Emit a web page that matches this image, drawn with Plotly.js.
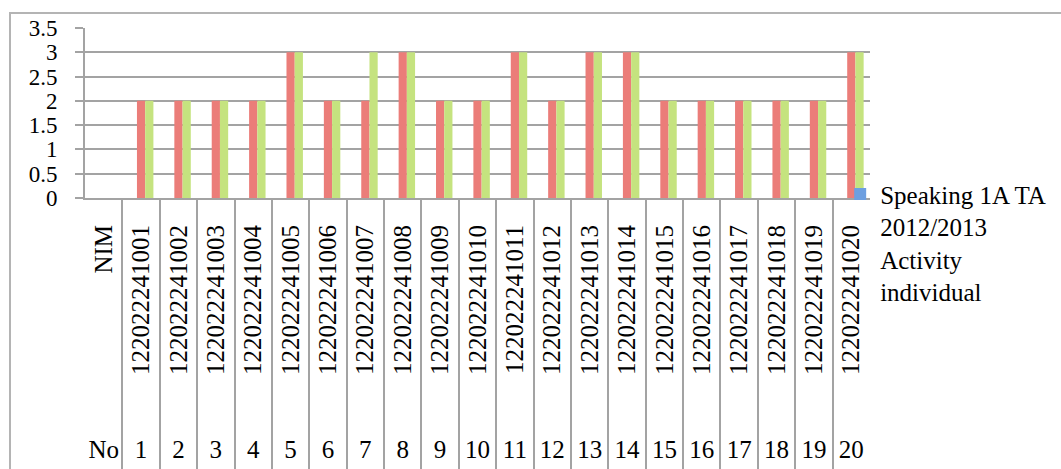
<!DOCTYPE html>
<html>
<head>
<meta charset="utf-8">
<script src="https://cdn.plot.ly/plotly-3.0.1.min.js"></script>
<style>
  html, body { margin: 0; padding: 0; background: #ffffff; }
  #frame { position: absolute; left: 9px; top: 12px; width: 1100px; height: 500px;
           border-left: 2px solid #b4b4b4; border-top: 2px solid #b4b4b4; }
  #chart { position: absolute; left: 0; top: 0; width: 1061px; height: 469px; }
</style>
</head>
<body>
<div id="frame"></div>
<div id="chart"></div>
<script>
// ---- data ----
const nimLabels = ["NIM", "122022241001", "122022241002", "122022241003", "122022241004",
  "122022241005", "122022241006", "122022241007", "122022241008", "122022241009",
  "122022241010", "122022241011", "122022241012", "122022241013", "122022241014",
  "122022241015", "122022241016", "122022241017", "122022241018", "122022241019",
  "122022241020"];
const noLabels = ["No", "1", "2", "3", "4", "5", "6", "7", "8", "9", "10",
  "11", "12", "13", "14", "15", "16", "17", "18", "19", "20"];
const seriesBlueName = "Speaking 1A TA<br>2012/2013<br>Activity<br>individual";
const seriesBlue  = [null, 0, 0, 0, 0, 0, 0, 0, 0, 0, 0, 0, 0, 0, 0, 0, 0, 0, 0, 0, 0];
const seriesRed   = [null, 2, 2, 2, 2, 3, 2, 2, 3, 2, 2, 3, 2, 3, 3, 2, 2, 2, 2, 2, 3];
const seriesGreen = [null, 2, 2, 2, 2, 3, 2, 3, 3, 2, 2, 3, 2, 3, 3, 2, 2, 2, 2, 2, 3];
const yTicks = [0, 0.5, 1, 1.5, 2, 2.5, 3, 3.5];

// ---- styles ----
const FONT = "Liberation Serif, Times New Roman, serif";
const GRID = "#a3a3a3";
const zeros = nimLabels.map(() => 0);

const traces = [
  { type: "bar", name: seriesBlueName, x: nimLabels, y: seriesBlue,
    marker: { color: "#6d9fe0", line: { width: 0 } }, hoverinfo: "skip" },
  { type: "bar", name: "Speaking 1A TA 2012/2013 Activity group", x: nimLabels, y: seriesRed,
    marker: { color: "#eb7d79", line: { width: 0 } }, showlegend: false },
  { type: "bar", name: "Speaking 1A TA 2012/2013 Activity class", x: nimLabels, y: seriesGreen,
    marker: { color: "#c5e37f", line: { width: 0 } }, showlegend: false },
  // carriers for the lower label row and the category dividers
  { type: "scatter", mode: "markers", x: noLabels, y: zeros, xaxis: "x2", yaxis: "y",
    marker: { opacity: 0, size: 1 }, hoverinfo: "skip", showlegend: false, cliponaxis: true },
  { type: "scatter", mode: "markers", x: nimLabels, y: zeros, xaxis: "x3", yaxis: "y",
    marker: { opacity: 0, size: 1 }, hoverinfo: "skip", showlegend: false, cliponaxis: true }
];

const layout = {
  width: 1061, height: 469,
  margin: { l: 85, r: 191, t: 28, b: 0, pad: 0 },
  paper_bgcolor: "rgba(0,0,0,0)",
  plot_bgcolor: "rgba(0,0,0,0)",
  font: { family: FONT, size: 25, color: "#000000" },
  barmode: "group",
  bargap: 0.34,
  bargroupgap: 0,
  showlegend: true,
  legend: {
    x: 0.962, xanchor: "left", y: 0.675, yanchor: "top",
    valign: "top", font: { family: FONT, size: 25, color: "#000" },
    bgcolor: "rgba(0,0,0,0)", borderwidth: 0
  },
  yaxis: {
    domain: [0.6145, 1],
    range: [0, 3.5],
    tickmode: "array", tickvals: yTicks,
    showgrid: true, gridcolor: GRID, gridwidth: 2,
    zeroline: false,
    showline: true, linecolor: GRID, linewidth: 2,
    ticks: "outside", ticklen: 8, tickcolor: GRID, tickwidth: 2,
    ticklabelstandoff: 13,
    tickfont: { family: FONT, size: 23, color: "#000" },
    fixedrange: true
  },
  xaxis: {
    type: "category", categoryorder: "array", categoryarray: nimLabels,
    range: [-0.5, 20.5], anchor: "y",
    showgrid: false, zeroline: false,
    showline: true, linecolor: GRID, linewidth: 2,
    ticks: "", tickangle: -90,
    ticklabelstandoff: 15,
    tickfont: { family: FONT, size: 25, color: "#000" },
    fixedrange: true
  },
  xaxis2: {
    type: "category", categoryorder: "array", categoryarray: noLabels,
    range: [-0.5, 20.5], overlaying: "x", anchor: "free", position: 0.083, side: "bottom",
    showgrid: false, zeroline: false, showline: false, ticks: "", tickangle: 0,
    tickfont: { family: FONT, size: 25, color: "#000" },
    fixedrange: true
  },
  xaxis3: {
    type: "category", categoryorder: "array", categoryarray: nimLabels,
    range: [-0.5, 20.5], overlaying: "x", anchor: "free", position: 0, side: "bottom",
    showgrid: false, zeroline: false, showline: false, showticklabels: false,
    ticks: "inside", tickson: "boundaries", ticklen: 271, tickwidth: 2, tickcolor: GRID,
    fixedrange: true
  }
};

Plotly.newPlot("chart", traces, layout, { displayModeBar: false, staticPlot: true });
</script>
</body>
</html>
